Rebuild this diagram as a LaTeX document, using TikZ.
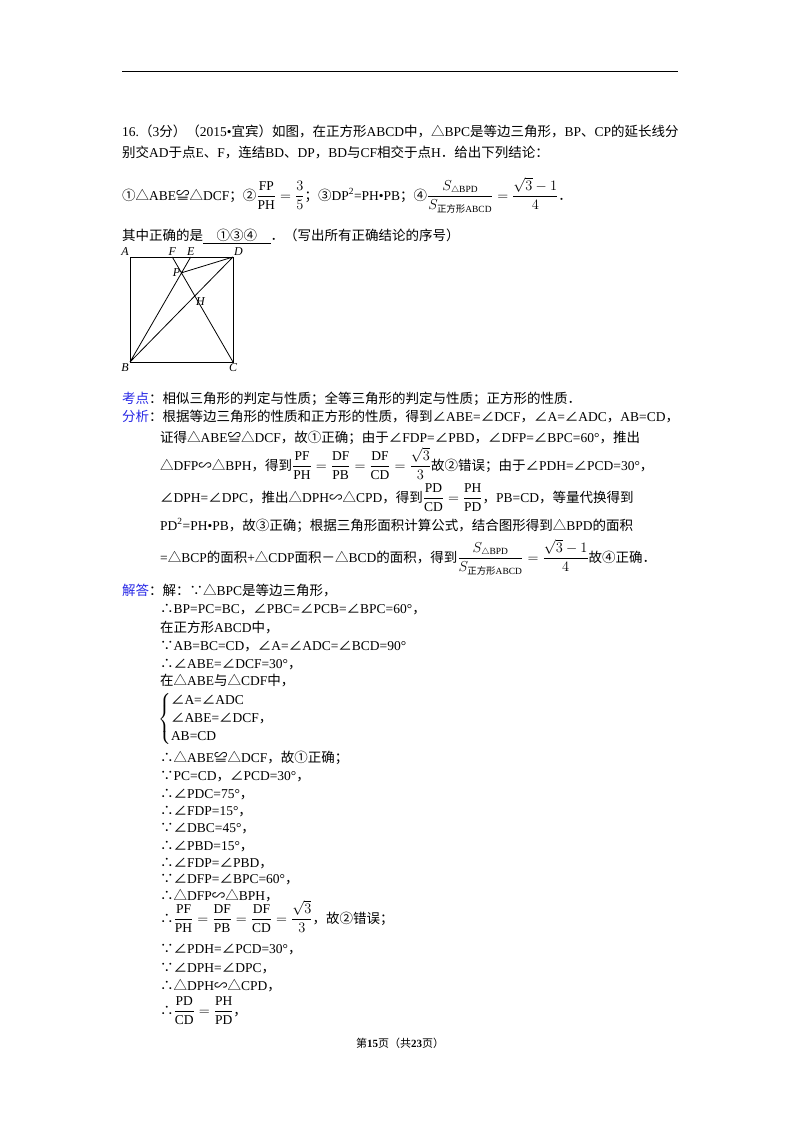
\documentclass[tikz,border=0pt]{standalone}
\usepackage{amsmath}
\usepackage{fontspec}
\setmainfont{Liberation Serif}
\newfontfamily\cjk{Noto Sans CJK SC}
\XeTeXinterchartokenstate=1
\newXeTeXintercharclass\cjkclass
\newcount\cc
\def\setcls#1#2{\cc=#1 \loop \XeTeXcharclass\cc=\cjkclass \advance\cc by 1 \ifnum\cc<#2 \repeat}
\setcls{"4E00}{"A000}
\setcls{"3000}{"3040}
\setcls{"FF00}{"FFF0}
\setcls{"2460}{"2474}
\XeTeXcharclass"2234=\cjkclass
\XeTeXcharclass"2235=\cjkclass
\XeTeXcharclass"25B3=\cjkclass
\XeTeXcharclass"2220=\cjkclass
\XeTeXcharclass"224C=\cjkclass
\XeTeXcharclass"223D=\cjkclass
\XeTeXinterchartoks 0 \cjkclass = {\cjk}
\XeTeXinterchartoks \cjkclass 0 = {\rmfamily}
\XeTeXinterchartoks 4095 \cjkclass = {\cjk}
\XeTeXinterchartoks \cjkclass 4095 = {\rmfamily}
\definecolor{kblue}{RGB}{40,40,230}
\begin{document}
\begin{tikzpicture}[x=1pt,y=-1pt,
  tx/.style={anchor=base west,inner sep=0pt,font=\fontsize{13.5}{15}\selectfont},
  lb/.style={inner sep=1pt,font=\fontsize{12}{13}\selectfont\itshape}]
\useasboundingbox (0,0) rectangle (800,1132);
\fill[white] (0,0) rectangle (800,1132);
\draw[line width=1pt] (122,72) -- (678,72);
\node[tx] (l1) at (122,136) {16.（3分）（2015•宜宾）如图，在正方形ABCD中，△BPC是等边三角形，BP、CP的延长线分};
\node[tx] (l2) at (122,157) {别交AD于点E、F，连结BD、DP，BD与CF相交于点H．给出下列结论：};
\node[tx] (l3) at (122,200) {①△ABE≌△DCF；②$\displaystyle\frac{\mathrm{FP}}{\mathrm{PH}}=\frac{3}{5}$；③DP\textsuperscript{2}=PH•PB；④$\displaystyle\frac{S_{\triangle\mathrm{BPD}}}{S_{\text{正方形ABCD}}}=\frac{\sqrt{3}-1}{4}$．};
\node[tx] (l4) at (122,240) {其中正确的是\underline{\quad ①③④\quad}．（写出所有正确结论的序号）};
% figure
\coordinate (A) at (130,257); \coordinate (B) at (130,362);
\coordinate (C) at (233,362); \coordinate (D) at (233,257);
\coordinate (P) at (181.5,272.8); \coordinate (E) at (190.7,257); \coordinate (F) at (172.3,257);
\coordinate (H) at (intersection of B--D and C--F);
\draw[line width=0.8pt] (A) -- (B) -- (C) -- (D) -- cycle;
\draw[line width=0.8pt] (B) -- (E) (C) -- (F) (B) -- (D) (P) -- (D);
\node[lb,anchor=south east] (la) at (A) {A};
\node[lb,anchor=north east] (lbb) at (B) {B};
\node[lb,anchor=north] (lc) at (C) {C};
\node[lb,anchor=south west] (ld) at (D) {D};
\node[lb,anchor=south] (lf) at (F) {F};
\node[lb,anchor=south] (le) at (E) {E};
\node[lb,anchor=east] (lp) at (P) {P};
\node[lb,anchor=north west] (lh) at (H) {H};
% analysis
\node[tx] (k1) at (122,403) {\textcolor{kblue}{考点}：相似三角形的判定与性质；全等三角形的判定与性质；正方形的性质．};
\node[tx] (k2) at (122,421) {\textcolor{kblue}{分析}：根据等边三角形的性质和正方形的性质，得到∠ABE=∠DCF，∠A=∠ADC，AB=CD，};
\node[tx] (k3) at (160,442) {证得△ABE≌△DCF，故①正确；由于∠FDP=∠PBD，∠DFP=∠BPC=60°，推出};
\node[tx] (k4) at (160,470) {△DFP∽△BPH，得到$\displaystyle\frac{\mathrm{PF}}{\mathrm{PH}}=\frac{\mathrm{DF}}{\mathrm{PB}}=\frac{\mathrm{DF}}{\mathrm{CD}}=\frac{\sqrt{3}}{3}$故②错误；由于∠PDH=∠PCD=30°，};
\node[tx] (k5) at (160,502) {∠DPH=∠DPC，推出△DPH∽△CPD，得到$\displaystyle\frac{\mathrm{PD}}{\mathrm{CD}}=\frac{\mathrm{PH}}{\mathrm{PD}}$，PB=CD，等量代换得到};
\node[tx] (k6) at (160,530) {PD\textsuperscript{2}=PH•PB，故③正确；根据三角形面积计算公式，结合图形得到△BPD的面积};
\node[tx] (k7) at (160,562) {=△BCP的面积+△CDP面积－△BCD的面积，得到$\displaystyle\frac{S_{\triangle\mathrm{BPD}}}{S_{\text{正方形ABCD}}}=\frac{\sqrt{3}-1}{4}$故④正确．};
% solution
\node[tx] (s0) at (122,595) {\textcolor{kblue}{解答}：解：∵△BPC是等边三角形，};
\node[tx] (s1) at (160,613) {∴BP=PC=BC，∠PBC=∠PCB=∠BPC=60°，};
\node[tx] (s2) at (160,632) {在正方形ABCD中，};
\node[tx] (s3) at (160,650) {∵AB=BC=CD，∠A=∠ADC=∠BCD=90°};
\node[tx] (s4) at (160,668) {∴∠ABE=∠DCF=30°，};
\node[tx] (s5) at (160,685) {在△ABE与△CDF中，};
\node[anchor=west,inner sep=0pt,font=\fontsize{13.5}{15}\selectfont] (s6) at (158,719) {$\left\{\begin{tabular}{@{}l@{}}∠A=∠ADC\\[3pt]∠ABE=∠DCF，\\[3pt]AB=CD\end{tabular}\right.$};
\node[tx] (s7) at (160,762) {∴△ABE≌△DCF，故①正确；};
\node[tx] (s8) at (160,780) {∵PC=CD，∠PCD=30°，};
\node[tx] (s9) at (160,798) {∴∠PDC=75°，};
\node[tx] (s10) at (160,815) {∴∠FDP=15°，};
\node[tx] (s11) at (160,832) {∵∠DBC=45°，};
\node[tx] (s12) at (160,850) {∴∠PBD=15°，};
\node[tx] (s13) at (160,867) {∴∠FDP=∠PBD，};
\node[tx] (s14) at (160,883) {∵∠DFP=∠BPC=60°，};
\node[tx] (s15) at (160,900) {∴△DFP∽△BPH，};
\node[tx] (s16) at (160,923) {∴$\displaystyle\frac{\mathrm{PF}}{\mathrm{PH}}=\frac{\mathrm{DF}}{\mathrm{PB}}=\frac{\mathrm{DF}}{\mathrm{CD}}=\frac{\sqrt{3}}{3}$，故②错误；};
\node[tx] (s17) at (160,953) {∵∠PDH=∠PCD=30°，};
\node[tx] (s18) at (160,972) {∵∠DPH=∠DPC，};
\node[tx] (s19) at (160,990) {∴△DPH∽△CPD，};
\node[tx] (s20) at (160,1015) {∴$\displaystyle\frac{\mathrm{PD}}{\mathrm{CD}}=\frac{\mathrm{PH}}{\mathrm{PD}}$，};
\node[anchor=base,inner sep=0pt,font=\fontsize{11}{13}\selectfont] (ft) at (400,1047) {第\textbf{15}页（共\textbf{23}页）};
\end{tikzpicture}
\end{document}
